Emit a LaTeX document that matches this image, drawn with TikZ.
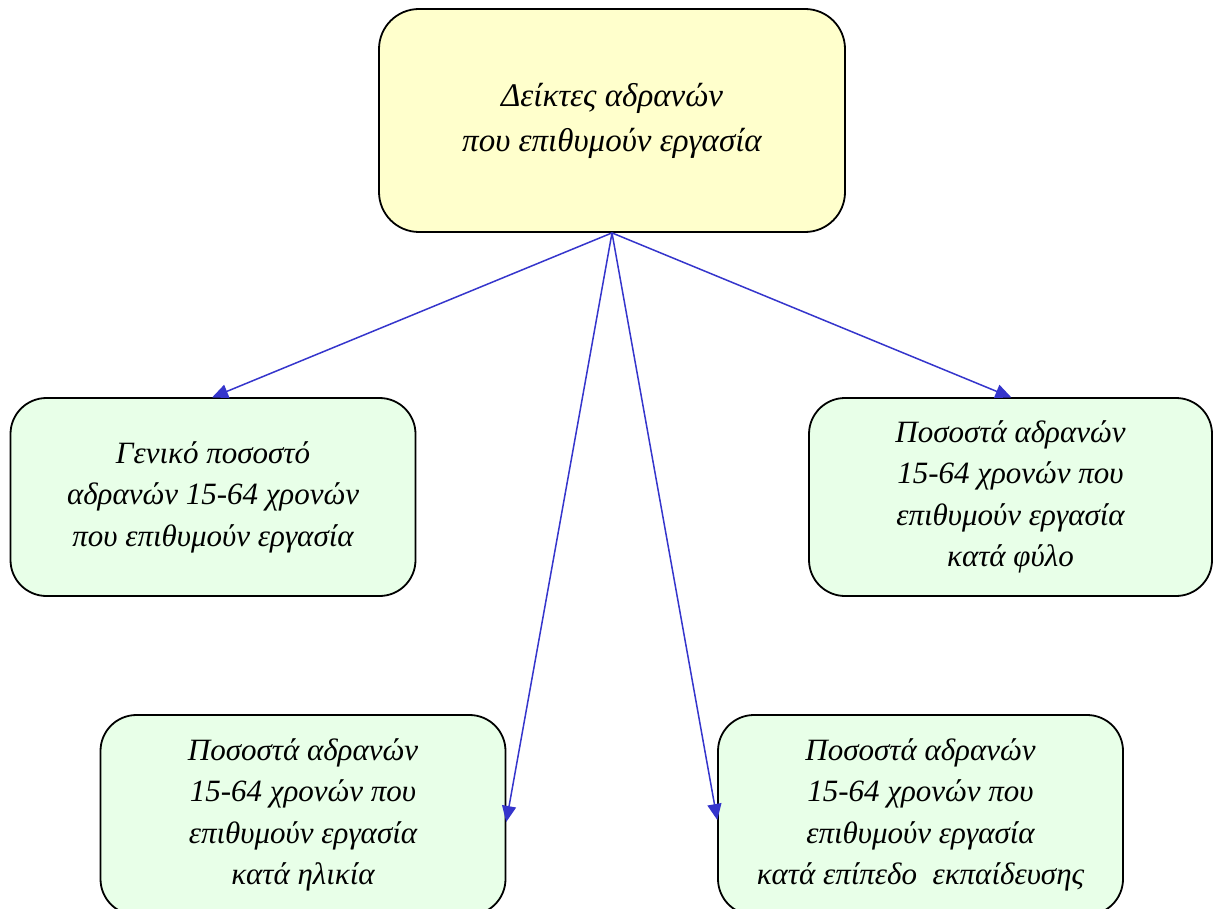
\documentclass[tikz,border=0pt]{standalone}
\usepackage{fontspec}
\setmainfont{Liberation Serif}
\usetikzlibrary{arrows.meta}
\definecolor{topfill}{HTML}{FFFFCC}
\definecolor{boxfill}{HTML}{E8FFE8}
\definecolor{arrowblue}{HTML}{3535CC}
\begin{document}
\begin{tikzpicture}[x=1pt,y=-1pt,
  boxstyle/.style={draw=black, line width=1.8pt, rounded corners=36pt, fill=boxfill,
    minimum width=405pt, minimum height=198pt, align=center, inner sep=0pt,
    font=\fontsize{31}{41.5}\selectfont\itshape},
  topstyle/.style={boxstyle, fill=topfill, minimum width=466pt, minimum height=223pt, rounded corners=40pt,
    font=\fontsize{33}{45}\selectfont\itshape},
  link/.style={draw=arrowblue, line width=1.5pt, -{Triangle[length=16pt,width=14pt]}, shorten >=-1pt}]
\clip (0,0) rectangle (1214,909);
\useasboundingbox (0,0) rectangle (1214,909);
\fill[white] (0,0) rectangle (1214,909);
\node[topstyle] (T) at (612,120.5) {Δείκτες αδρανών\\που επιθυμούν εργασία};
\node[boxstyle] (L) at (213,497) {Γενικό ποσοστό\\αδρανών 15-64 χρονών\\ που επιθυμούν εργασία};
\node[boxstyle, minimum width=403pt] (R) at (1010.5,497) {Ποσοστά αδρανών\\15-64 χρονών που\\επιθυμούν εργασία\\κατά φύλο};
\node[boxstyle, minimum height=200pt] (BL) at (303,815) {Ποσοστά αδρανών\\15-64 χρονών που\\επιθυμούν εργασία\\κατά ηλικία};
\node[boxstyle, minimum height=200pt] (BR) at (920.5,815) {Ποσοστά αδρανών\\15-64 χρονών που\\επιθυμούν εργασία\\κατά επίπεδο~ εκπαίδευσης};
\draw[link] (T.south) -- (L.north);
\draw[link] (T.south) -- (R.north);
\draw[link] (T.south) -- ([yshift=-6pt]BL.east);
\draw[link] (T.south) -- ([yshift=-4pt]BR.west);
\end{tikzpicture}
\end{document}
